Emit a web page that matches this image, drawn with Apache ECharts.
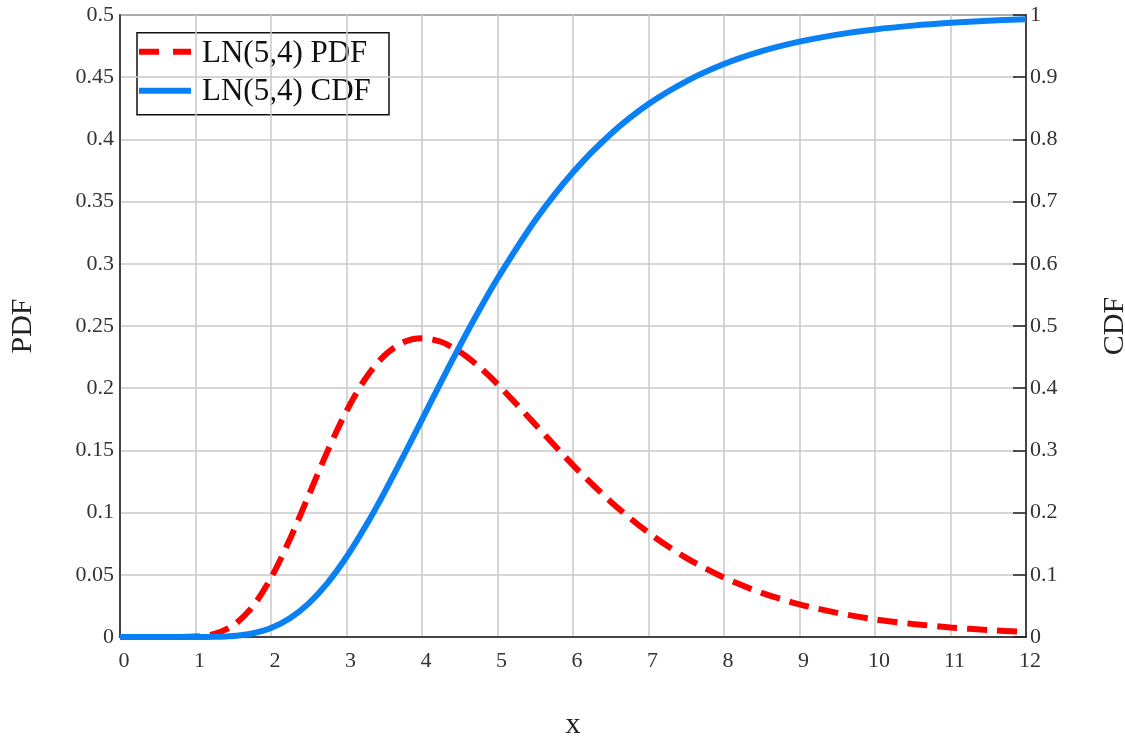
<!DOCTYPE html>
<html>
<head>
<meta charset="utf-8">
<script src="https://cdn.jsdelivr.net/npm/echarts@6/dist/echarts.min.js"></script>
<style>html,body{margin:0;padding:0;background:#fff;overflow:hidden}#c{width:1125px;height:739px}</style>
</head>
<body>
<div id="c"></div>
<script>
const xs  = [0,0.5,1,1.25,1.5,1.75,2,2.25,2.5,2.75,3,3.25,3.5,3.75,4,4.25,4.5,4.75,5,5.5,6,6.5,7,7.5,8,8.5,9,9.5,10,10.5,11,11.5,12];
const pdf = [0,0,0.0004,0.0025,0.0094,0.0239,0.0475,0.0786,0.1139,0.1495,0.1816,0.2076,0.2261,0.2369,0.2402,0.2373,0.2293,0.2176,0.2033,0.1709,0.1382,0.1088,0.0838,0.0636,0.0477,0.0355,0.0263,0.0194,0.0142,0.0105,0.0077,0.0056,0.0041];
const cdf = [0,0,0,0.0003,0.0017,0.0057,0.0144,0.0301,0.0541,0.0871,0.1286,0.1775,0.2318,0.2898,0.3496,0.4094,0.4678,0.5237,0.5764,0.670,0.7473,0.8088,0.8568,0.8934,0.9211,0.9418,0.9571,0.9685,0.9768,0.9829,0.9874,0.9907,0.9931];
const seriesNames = ['LN(5,4) PDF','LN(5,4) CDF'];
const axisNames = {x:'x', left:'PDF', right:'CDF'};

const FONT = "'Liberation Serif','Times New Roman',serif";
const RED = '#ff0000', BLUE = '#0a80f5';
const chart = echarts.init(document.getElementById('c'), null, {renderer:'canvas', width:1125, height:739});
const labelStyle = {fontFamily:FONT, fontSize:22, color:'#333'};
const nameStyle = {fontFamily:FONT, fontSize:30, color:'#222'};
chart.setOption({
  animation:false,
  backgroundColor:'#fff',
  grid:{left:120, right:99, top:15, bottom:102, containLabel:false, outerBoundsMode:'none',
        show:true, borderColor:'#222', borderWidth:1.5, backgroundColor:'transparent'},
  legend:{show:false},
  graphic:[{
    type:'group', left:136, top:32, z:100,
    children:[
      {type:'rect', shape:{x:0, y:0, width:252, height:82}, style:{fill:'#fff', stroke:'#111', lineWidth:1.5}},
      {type:'line', shape:{x1:2, y1:19, x2:54, y2:19}, style:{stroke:RED, lineWidth:6, lineDash:[20,14], lineCap:'butt'}},
      {type:'line', shape:{x1:2, y1:58, x2:54, y2:58}, style:{stroke:BLUE, lineWidth:6}},
      {type:'text', x:65, y:21, style:{text:seriesNames[0], font:"31px 'Liberation Serif', serif", fill:'#111', verticalAlign:'middle'}},
      {type:'text', x:65, y:59, style:{text:seriesNames[1], font:"31px 'Liberation Serif', serif", fill:'#111', verticalAlign:'middle'}}
    ]
  }],
  xAxis:{
    type:'value', min:0, max:12, interval:1,
    name:axisNames.x, nameLocation:'middle', nameGap:73,
    nameTextStyle:nameStyle,
    axisLine:{onZero:false, lineStyle:{color:'#222', width:1.5}},
    axisTick:{show:false},
    axisLabel:Object.assign({margin:13, padding:[0,0,0,8]}, labelStyle),
    splitLine:{show:true, lineStyle:{color:'#c8c8c8', width:1.5}}
  },
  yAxis:[{
    type:'value', min:0, max:0.5, interval:0.05, position:'left',
    name:axisNames.left, nameLocation:'middle', nameGap:82, nameRotate:90,
    nameTextStyle:nameStyle,
    axisLine:{show:true, lineStyle:{color:'#222', width:1.5}},
    axisTick:{show:false},
    axisLabel:Object.assign({margin:6}, labelStyle),
    splitLine:{show:true, lineStyle:{color:'#c8c8c8', width:1.5}}
  },{
    type:'value', min:0, max:1, interval:0.1, position:'right',
    name:axisNames.right, nameLocation:'middle', nameGap:74, nameRotate:90,
    nameTextStyle:nameStyle,
    axisLine:{show:true, lineStyle:{color:'#222', width:1.5}},
    axisTick:{show:true, inside:true, length:13, lineStyle:{color:'#222', width:1.5}},
    axisLabel:Object.assign({margin:4}, labelStyle),
    splitLine:{show:false}
  }],
  series:[{
    name:seriesNames[0], type:'line', yAxisIndex:0, symbol:'none', smooth:0.3,
    data:xs.map((x,i)=>[x,pdf[i]]),
    lineStyle:{color:RED, width:6, type:[20,10], cap:'butt'},
    itemStyle:{color:RED}, z:2
  },{
    name:seriesNames[1], type:'line', yAxisIndex:1, symbol:'none', smooth:0.3,
    data:xs.map((x,i)=>[x,cdf[i]]),
    lineStyle:{color:BLUE, width:6},
    itemStyle:{color:BLUE}, z:3
  }]
});
</script>
</body>
</html>
